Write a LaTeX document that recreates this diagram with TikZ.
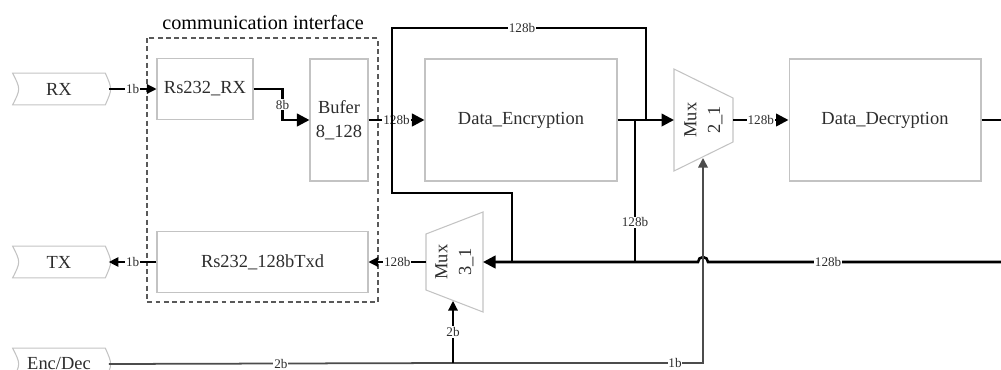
\documentclass[tikz,border=0pt]{standalone}
\usepackage{fontspec}
\setmainfont{Liberation Serif}
\definecolor{boxgray}{RGB}{195,195,195}
\definecolor{inkgray}{RGB}{45,45,45}
\usetikzlibrary{
    arrows.meta,
    positioning,
    calc
}
\tikzstyle{block} = [
    draw=boxgray,
    line width=0.6pt,
    text=inkgray,
    font=\fontsize{10.5}{13.5}\selectfont,
    align=center,
    inner sep=0pt
]
\tikzstyle{port} = [
    text=inkgray,
    font=\fontsize{10.5}{12.5}\selectfont,
    minimum width=1.84cm,
    minimum height=0.62cm,
    inner sep=0pt
]
\tikzstyle{portline} = [draw=boxgray, line width=0.6pt]
\tikzstyle{bus} = [line width=1.45pt, draw=black]
\tikzstyle{wire} = [line width=0.7pt, draw=black]
\tikzstyle{ctrl} = [line width=1pt, draw=black!70]
\tikzstyle{bigtip} = [-{Triangle[length=0.25cm, width=0.25cm]}]
\tikzstyle{smalltip} = [-{Triangle[length=0.19cm, width=0.19cm]}]
\tikzstyle{bits} = [
    fill=white,
    inner sep=0.5pt,
    text=inkgray,
    font=\fontsize{7.5}{8}\selectfont
]

\begin{document}
\begin{tikzpicture}[x=0.02cm, y=-0.02cm]
        \useasboundingbox (0,0) rectangle (1001,369);

        % Communication interface frame
        \draw[dash pattern=on 2.8pt off 1.9pt, line width=0.8pt, black!65] (147,38) rectangle (378,302);
        \node[font=\fontsize{11.5}{13}\selectfont] (ifname) at (263,22) {communication interface};

        % Blocks
        \node[block, minimum width=1.92cm, minimum height=1.22cm] (rsrx) at (205,89) {Rs232\_RX};
        \node[block, minimum width=1.16cm, minimum height=2.44cm] (bufer) at (339,120) {Bufer\\8\_128};
        \node[block, minimum width=3.84cm, minimum height=2.44cm] (dataenc) at (521,120) {Data\_Encryption};
        \node[block, minimum width=3.84cm, minimum height=2.44cm] (datadec) at (885,120) {Data\_Decryption};
        \node[block, minimum width=4.22cm, minimum height=1.22cm] (rstx) at (262.5,262) {Rs232\_128bTxd};

        % Ports
        \node[port] (rx) at (59,89) {RX};
        \node[port] (tx) at (59,262) {TX};
        \node[port] (encdec) at (59,364) {Enc/Dec};
        \foreach \p in {rx,tx,encdec} {
            \draw[portline] (\p.north west) -- (\p.north east)
                .. controls ($(\p.east)+(7,0)$) .. (\p.south east)
                -- (\p.south west)
                .. controls ($(\p.west)+(8,0)$) .. cycle;
            \coordinate (\p-tip) at ($(\p.east)+(3.5,0)$);
        }

        % Multiplexers
        \draw[portline] (674,69) -- (733,98) -- (733,142) -- (674,171) -- cycle;
        \node[block, draw=none, rotate=90] (mux21) at (703.5,120) {Mux\\2\_1};
        \coordinate (mux21in) at (674,120);
        \coordinate (mux21out) at (733,120);
        \coordinate (mux21sel) at (703,158);

        \draw[portline] (426,234) -- (483,212) -- (483,312) -- (426,290) -- cycle;
        \node[block, draw=none, rotate=90] (mux31) at (454.5,262) {Mux\\3\_1};
        \coordinate (mux31in) at (483,262);
        \coordinate (mux31out) at (426,262);
        \coordinate (mux31sel) at (453,301);

        % Free ends and junctions
        \coordinate (decout) at (1001,120);
        \coordinate (busend) at (1001,262);
        \coordinate (jl) at (392,120);
        \coordinate (jm) at (635,120);
        \coordinate (jr) at (646,120);
        \coordinate (jb) at (512,262);
        \coordinate (hop) at (mux21sel |- busend);
        \coordinate (split) at (453,363);

        % Receive path
        \draw[wire, smalltip] (rx-tip) -- node[bits] {1b} (rsrx);
        \draw[bus, bigtip] (rsrx.east) -- ++(29,0) |- node[bits, pos=0.25] {8b} (bufer.west);
        \draw[bus, bigtip] (bufer) -- node[bits] {128b} (dataenc);
        \draw[bus, bigtip] (dataenc) -- (mux21in);
        \draw[bus, bigtip] (mux21out) -- node[bits] {128b} (datadec);
        \draw[bus] (datadec) -- (decout);

        % Bypass loops
        \draw[bus] (jl) -- ++(0,-92) -| node[bits, pos=0.256] {128b} (jr);
        \draw[bus] (jl) -- ++(0,73) -| (jb);
        \draw[bus] (jm) -- node[bits, pos=0.72] {128b} (jm |- jb);

        % Return bus with hop
        \draw[bus, bigtip] (busend) -- node[bits, pos=0.59] {128b} ($(hop)+(5,0)$)
            arc[start angle=0, end angle=180, radius=0.1cm] -- (mux31in);

        % Transmit path
        \draw[wire, smalltip] (mux31out) -- node[bits] {128b} (rstx);
        \draw[wire, smalltip] (rstx) -- node[bits] {1b} (tx-tip);

        % Mode select
        \draw[ctrl] (encdec-tip) -- node[bits] {2b} (split);
        \draw[ctrl, smalltip] (split) -| node[bits, pos=0.444] {1b} (mux21sel);
        \draw[wire, smalltip] (split) -- node[bits] {2b} (mux31sel);
    \end{tikzpicture}
\end{document}
